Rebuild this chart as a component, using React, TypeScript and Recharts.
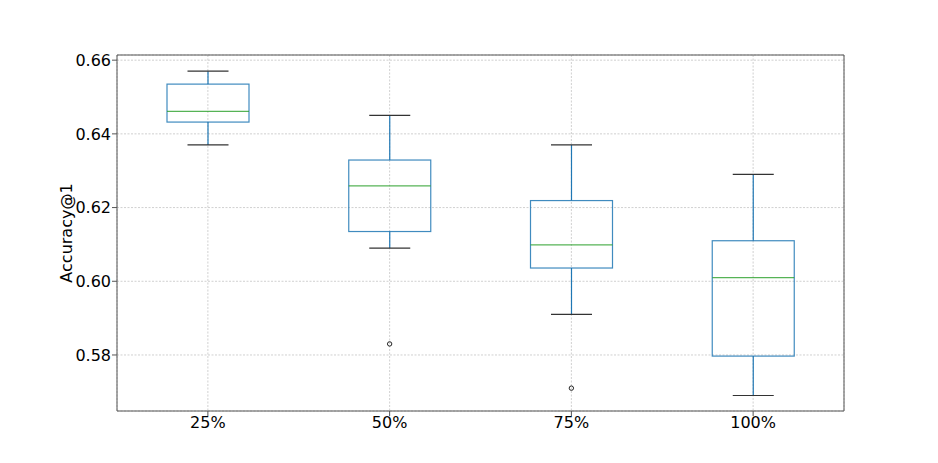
import React from "react";
import {
  ComposedChart,
  Bar,
  Scatter,
  XAxis,
  YAxis,
  CartesianGrid,
} from "recharts";

// box plot stats
const categories = ["25%", "50%", "75%", "100%"];
const whiskerLow = [0.637, 0.609, 0.591, 0.569];
const q1 = [0.6432, 0.6135, 0.6036, 0.5797];
const median = [0.6461, 0.6259, 0.6099, 0.601];
const q3 = [0.6535, 0.6329, 0.6219, 0.611];
const whiskerHigh = [0.657, 0.645, 0.637, 0.629];

const outlierCategories = ["50%", "75%"];
const outlierValues = [0.583, 0.571];

const yTicks = [0.58, 0.6, 0.62, 0.64, 0.66];

const BOX_COLOR = "#1f77b4";
const MEDIAN_COLOR = "#2ca02c";
const CAP_COLOR = "#333333";
const SPINE = "#555555";
const FONT = "DejaVu Sans, sans-serif";

const data = categories.map((name, i) => ({
  name,
  range: [whiskerLow[i], whiskerHigh[i]],
  low: whiskerLow[i],
  q1: q1[i],
  median: median[i],
  q3: q3[i],
  high: whiskerHigh[i],
}));

const outliers = outlierCategories.map((name, i) => ({
  name,
  value: outlierValues[i],
}));

// bar spans low..high whisker, so inner positions come from that same scale
function BoxShape(props: any) {
  const { x, y, width, height, payload } = props;
  if (!payload || height == null) return null;
  const { low, high } = payload;
  const k = height / (high - low);
  const py = (v: number) => y + (high - v) * k;
  const cx = x + width / 2;
  const half = width / 2;
  const capHalf = width / 4;
  return (
    <g>
      <line x1={cx} x2={cx} y1={py(high)} y2={py(payload.q3)} stroke={BOX_COLOR} strokeWidth={1.2} />
      <line x1={cx} x2={cx} y1={py(payload.q1)} y2={py(low)} stroke={BOX_COLOR} strokeWidth={1.2} />
      <line x1={cx - capHalf} x2={cx + capHalf} y1={py(high)} y2={py(high)} stroke={CAP_COLOR} strokeWidth={1.2} />
      <line x1={cx - capHalf} x2={cx + capHalf} y1={py(low)} y2={py(low)} stroke={CAP_COLOR} strokeWidth={1.2} />
      <rect
        x={cx - half}
        y={py(payload.q3)}
        width={width}
        height={py(payload.q1) - py(payload.q3)}
        fill="none"
        stroke={BOX_COLOR}
        strokeWidth={1.2}
        strokeOpacity={0.85}
      />
      <line x1={cx - half} x2={cx + half} y1={py(payload.median)} y2={py(payload.median)} stroke={MEDIAN_COLOR} strokeWidth={1.2} strokeOpacity={0.8} />
    </g>
  );
}

function FlierShape(props: any) {
  const { cx, cy } = props;
  return <circle cx={cx} cy={cy} r={2.2} fill="none" stroke="#222" strokeWidth={1} />;
}

export default function App() {
  return (
    <div style={{ width: 938, height: 463, background: "#fff" }}>
      <style>{"body{margin:0}"}</style>
      <ComposedChart
        width={938}
        height={463}
        data={data}
        margin={{ top: 54, right: 93, bottom: 22, left: 0 }}
      >
        <CartesianGrid stroke="#c4c4c4" strokeDasharray="2 1.5" strokeWidth={0.8} />
        <XAxis
          dataKey="name"
          type="category"
          allowDuplicatedCategory={false}
          height={30}
          stroke={SPINE}
          tickSize={5}
          tickMargin={1}
          tick={{ fill: "#000", fontSize: 16, fontFamily: FONT }}
        />
        <XAxis
          xAxisId="top"
          dataKey="name"
          orientation="top"
          height={1}
          tick={false}
          tickLine={false}
          axisLine={{ stroke: SPINE }}
        />
        <YAxis
          type="number"
          domain={[0.5648, 0.6614]}
          allowDataOverflow
          ticks={yTicks}
          tickFormatter={(v: number) => v.toFixed(2)}
          width={117}
          stroke={SPINE}
          tickSize={5}
          tickMargin={1}
          tick={{ fill: "#000", fontSize: 16, fontFamily: FONT }}
          label={{
            value: "Accuracy@1",
            angle: -90,
            position: "insideLeft",
            offset: 66,
            style: { textAnchor: "middle", fontSize: 16, fontFamily: FONT, fill: "#000" },
          }}
        />
        <YAxis
          yAxisId="right"
          orientation="right"
          width={1}
          tick={false}
          tickLine={false}
          axisLine={{ stroke: SPINE }}
          domain={[0.5648, 0.6614]}
        />
        <Bar dataKey="range" barSize={82} shape={BoxShape} isAnimationActive={false} />
        <Scatter data={outliers} dataKey="value" shape={FlierShape} isAnimationActive={false} />
      </ComposedChart>
    </div>
  );
}
